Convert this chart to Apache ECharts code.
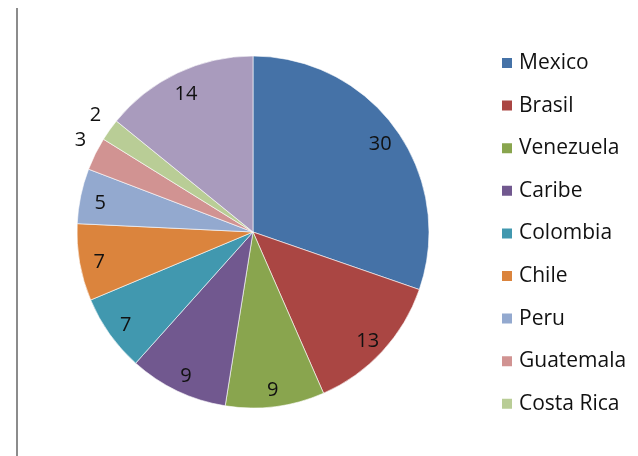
<!DOCTYPE html>
<html><head><meta charset="utf-8">
<script src="https://cdn.jsdelivr.net/npm/echarts@6/dist/echarts.min.js"></script>
<style>html,body{margin:0;padding:0;background:#fff}#c{width:638px;height:456px}</style>
</head><body><div id="c"></div>
<script>
const categories = ['Mexico','Brasil','Venezuela','Caribe','Colombia','Chile','Peru','Guatemala','Costa Rica','Otros'];
const values = [30,13,9,9,7,7,5,3,2,14];
const colors = ['#4572A7','#AA4643','#89A54E','#71588F','#4198AF','#DB843D','#93A9CF','#D19392','#B9CD96','#A99BBD'];
const legendNames = categories.slice(0,9);
const outsideLabels = ['Guatemala','Costa Rica'];

const FONT = 'Open Sans';
const TXT = '#111111';
const chart = echarts.init(document.getElementById('c'));
const center = [253, 232];
const R = 176;

const mainData = categories.map((n,i)=>({
  name:n, value:values[i], itemStyle:{color:colors[i]},
  label: outsideLabels.includes(n) ? {show:true} : {show:false}
}));
const overlayData = categories.map((n,i)=>({
  name:n+' ', value:values[i],
  label: outsideLabels.includes(n) ? {show:false} : {show:true}
}));

chart.setOption({
  animation:false,
  legend:{
    orient:'vertical', left:500, top:51, padding:0,
    itemWidth:12, itemHeight:12, itemGap:18.6, icon:'rect',
    data: legendNames.map((n,i)=>({name:n, itemStyle:{color:colors[i]}})),
    textStyle:{fontFamily:FONT, fontSize:21, color:TXT, lineHeight:24, padding:[0,0,0,1]},
    selectedMode:false
  },
  graphic:[{type:'line', shape:{x1:17,y1:8,x2:17,y2:456}, style:{stroke:'#8c8c8c', lineWidth:2}}],
  series:[
    {
      type:'pie', center:center, radius:[0,R], startAngle:90, clockwise:true,
      data: mainData, silent:true,
      itemStyle:{borderColor:'#ffffff', borderWidth:0.6},
      label:{position:'outside', fontFamily:FONT, fontSize:20, color:TXT, formatter:'{c}'},
      labelLine:{show:false, length:8, length2:0},
      labelLayout:{dx:3, dy:-10},
      emphasis:{disabled:true}
    },
    {
      type:'pie', center:center, radius:[0,R*1.74], startAngle:90, clockwise:true,
      data: overlayData, silent:true,
      itemStyle:{color:'rgba(0,0,0,0)', borderWidth:0},
      label:{position:'inside', fontFamily:FONT, fontSize:20, color:TXT, formatter:'{c}'},
      labelLine:{show:false},
      labelLayout:{dy:3},
      emphasis:{disabled:true}
    }
  ]
});
</script></body></html>
